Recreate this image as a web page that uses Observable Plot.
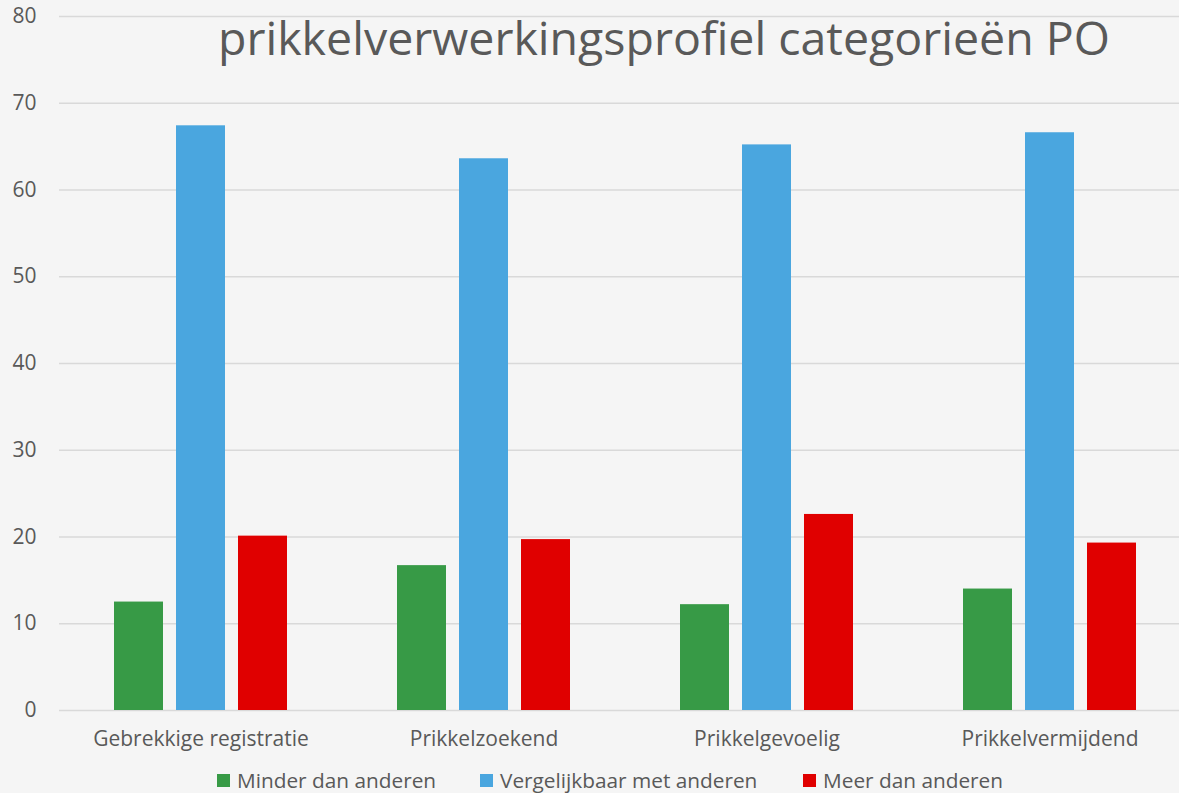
<!DOCTYPE html>
<html>
<head>
<meta charset="utf-8">
<script src="https://cdn.jsdelivr.net/npm/d3@7"></script>
<script src="https://cdn.jsdelivr.net/npm/@observablehq/plot@0.6"></script>
<style>
  html, body { margin: 0; padding: 0; background: #f5f5f5; }
  #wrap { position: relative; width: 1179px; height: 793px; background: #f5f5f5; overflow: hidden; font-family: "Open Sans", sans-serif; color: #595959; }
  #wrap svg { display: block; max-width: none !important; }
  #title { position: absolute; top: 5px; left: 218px; font-size: 46.5px; white-space: nowrap; color: #595959; }
  .leg { position: absolute; top: 766px; font-size: 20.8px; white-space: nowrap; display: flex; align-items: center; }
  .sw { width: 13px; height: 13px; display: inline-block; margin-right: 7px; }
</style>
</head>
<body>
<div id="wrap"></div>
<script>
const categories = ["Gebrekkige registratie", "Prikkelzoekend", "Prikkelgevoelig", "Prikkelvermijdend"];
const seriesNames = ["Minder dan anderen", "Vergelijkbaar met anderen", "Meer dan anderen"];
const minder = [12.5, 16.7, 12.2, 14.0];
const vergelijkbaar = [67.4, 63.6, 65.2, 66.6];
const meer = [20.1, 19.7, 22.6, 19.3];
const yTicks = [0, 10, 20, 30, 40, 50, 60, 70, 80];
const colors = ["#379a46", "#4aa6df", "#e00000"];
const titleText = "prikkelverwerkingsprofiel categorieën PO";

const seriesValues = [minder, vergelijkbaar, meer];
const data = [];
categories.forEach((c, i) => {
  seriesNames.forEach((s, j) => {
    data.push({category: c, series: s, value: seriesValues[j][i]});
  });
});

const chart = Plot.plot({
  width: 1191,
  height: 760,
  marginLeft: 58,
  marginRight: 0,
  marginTop: 16,
  marginBottom: 50,
  style: {background: "transparent", fontFamily: "Open Sans, sans-serif", fontSize: "21px", color: "#595959", overflow: "visible", maxWidth: "none"},
  fx: {domain: categories, padding: 0, label: null},
  x: {domain: seriesNames, paddingInner: 0.214, paddingOuter: 0.856, axis: null},
  y: {domain: [0, 80], label: null},
  color: {domain: seriesNames, range: colors},
  marks: [
    Plot.gridY(yTicks, {stroke: "#d9d9d9", strokeOpacity: 1, strokeWidth: 1.5}),
    Plot.barY(data, {fx: "category", x: "series", y: "value", fill: "series"}),
    Plot.axisY(yTicks, {tickSize: 0, tickPadding: 23, label: null, fill: "#595959", fontSize: 21}),
    Plot.axisFx({anchor: "bottom", tickSize: 0, tickPadding: 21, label: null, fill: "#595959", fontSize: 21})
  ]
});

const wrap = document.getElementById("wrap");
wrap.appendChild(chart);

const title = document.createElement("div");
title.id = "title";
title.textContent = titleText;
wrap.appendChild(title);

const legLefts = [217, 480, 803];
seriesNames.forEach((s, j) => {
  const item = document.createElement("div");
  item.className = "leg";
  item.style.left = legLefts[j] + "px";
  const sw = document.createElement("span");
  sw.className = "sw";
  sw.style.background = colors[j];
  item.appendChild(sw);
  const t = document.createElement("span");
  t.textContent = s;
  item.appendChild(t);
  wrap.appendChild(item);
});
</script>
</body>
</html>
